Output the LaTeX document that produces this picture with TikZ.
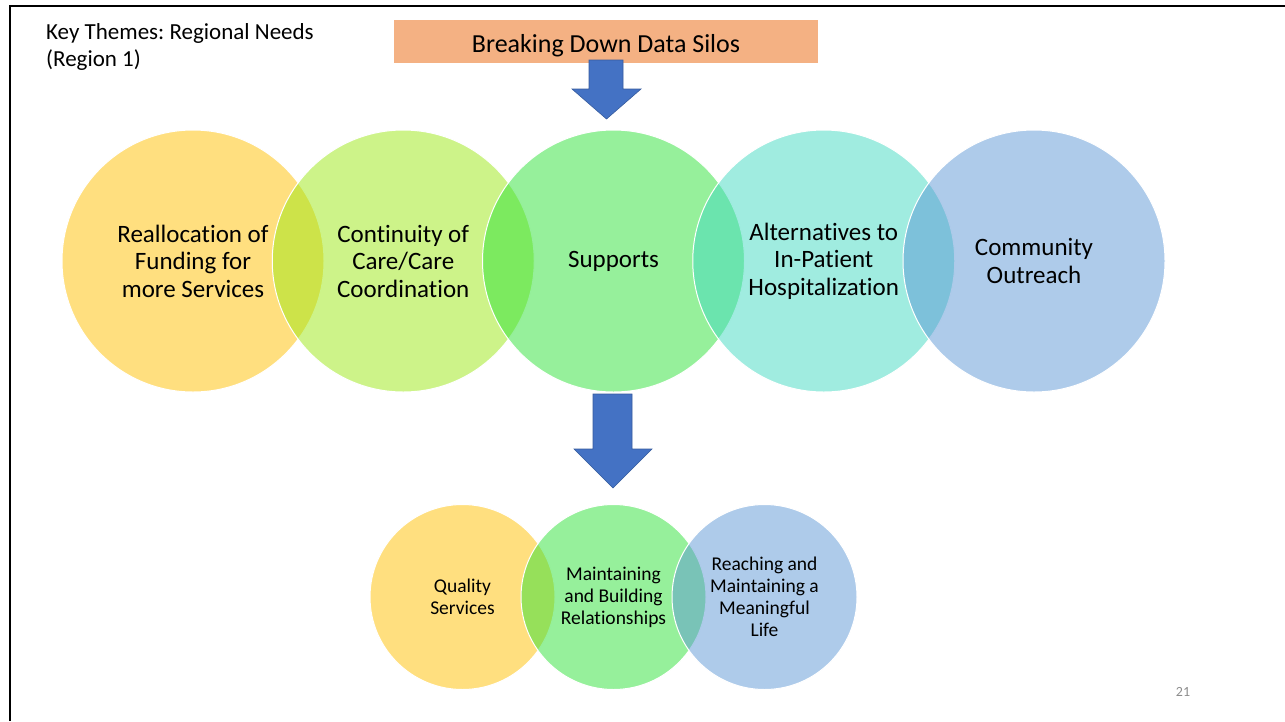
\documentclass[tikz,border=0pt]{standalone}
\usepackage{fontspec}
\setmainfont{Carlito}[Ligatures=NoCommon]
\frenchspacing
\usetikzlibrary{positioning}
\definecolor{silo}{RGB}{244,177,131}
\definecolor{arrowblue}{RGB}{68,114,196}
\definecolor{cgold}{RGB}{255,192,0}
\definecolor{clime}{RGB}{155,232,20}
\definecolor{cgreen}{RGB}{45,225,55}
\definecolor{caqua}{RGB}{65,217,193}
\definecolor{cblue}{RGB}{93,151,213}

\begin{document}
\begin{tikzpicture}[x=1pt, y=-1pt,
    theme/.style={circle, draw=white, line width=1pt, fill opacity=0.5, text opacity=1,
        minimum size=262pt, inner sep=0pt, align=center, font=\fontsize{25}{27.5}\selectfont},
    subtheme/.style={theme, minimum size=185pt, font=\fontsize{19.5}{22}\selectfont},
    blockarrow/.style={fill=arrowblue, draw=arrowblue!80!black, line width=0.6pt}]
    \useasboundingbox (0,0) rectangle (1285,721);

    % Rahmen der Folie
    \draw[line width=2.5pt] (10,721) -- (10,6.2) -- (1285,6.2);

    % Titel und Kopfzeile
    \node[anchor=west, align=left, inner sep=0pt, font=\fontsize{23}{27}\selectfont] (title) at (46,47)
        {Key Themes: Regional Needs\\(Region 1)};
    \node[fill=silo, minimum width=424pt, minimum height=43pt, inner sep=0pt, text height=25pt,
        text depth=3pt, font=\fontsize{26}{30}\selectfont] (silos) at (606,41.5) {Breaking Down Data Silos};

    % Obere Reihe der Themen
    \node[theme, fill=cgold] (realloc) at (193,261) {Reallocation of\\Funding for\\more Services};
    \node[theme, fill=clime, right=-52.75pt of realloc] (contin) {Continuity of\\Care/Care\\Coordination};
    \node[theme, fill=cgreen, right=-52.75pt of contin] (supports) {Supports};
    \node[theme, fill=caqua, right=-52.75pt of supports] (altern) {Alternatives to\\In-Patient\\Hospitalization};
    \node[theme, fill=cblue, right=-52.75pt of altern] (outreach) {Community\\Outreach};

    % Blockpfeile
    \draw[blockarrow] (589,60) -- (623,60) -- (623,89) -- (641,89) -- (606.5,119)
        -- (572,89) -- (589,89) -- cycle;
    \draw[blockarrow] (593,394) -- (632,394) -- (632,449) -- (652,449) -- (613,488)
        -- (574,449) -- (593,449) -- cycle;

    % Untere Reihe
    \node[subtheme, fill=cgold] (quality) at (462.5,597) {Quality\\Services};
    \node[subtheme, fill=cgreen, right=-35pt of quality] (relations) {Maintaining\\and Building\\Relationships};
    \node[subtheme, fill=cblue, right=-35pt of relations] (life) {Reaching and\\Maintaining a\\Meaningful\\Life};

    % Seitenzahl
    \node[text=black!45, font=\fontsize{14}{16}\selectfont] (pagenum) at (1183,692) {21};
\end{tikzpicture}
\end{document}
